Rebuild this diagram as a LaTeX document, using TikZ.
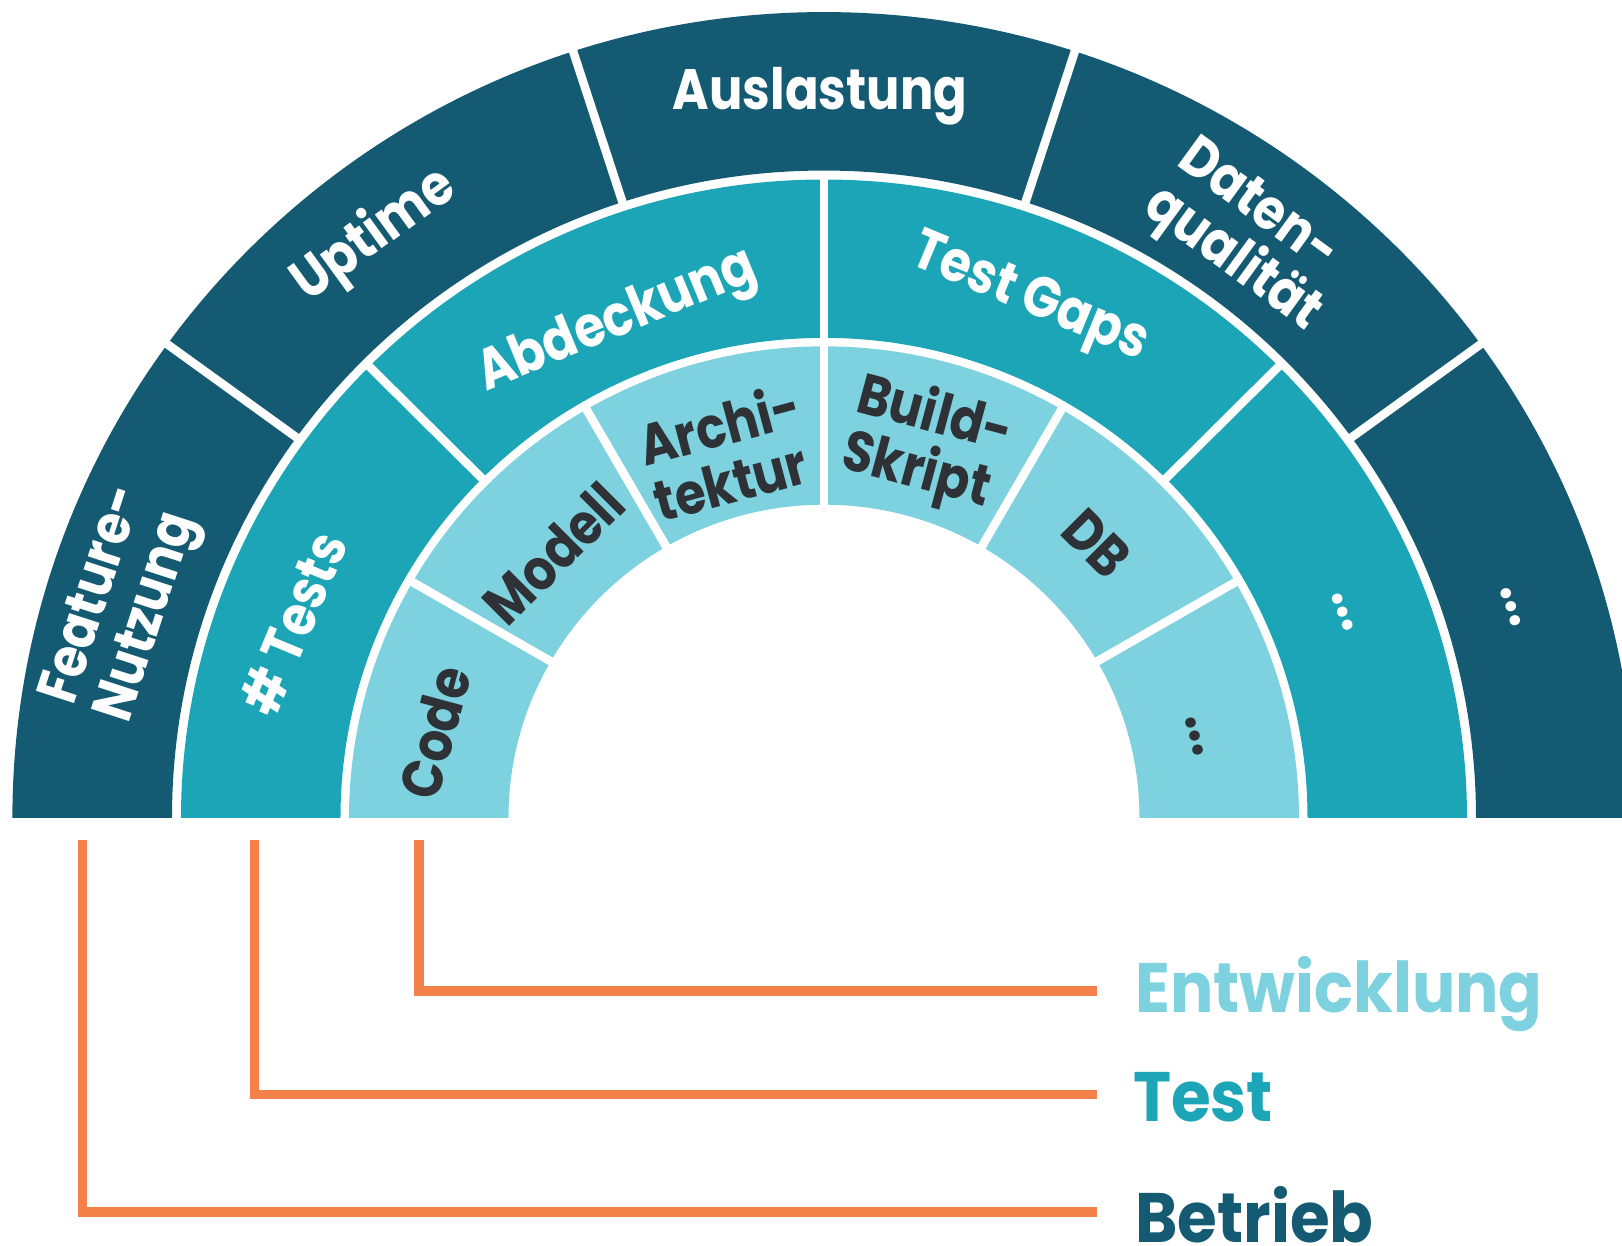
\documentclass[tikz,border=0pt]{standalone}
\usepackage{fontspec}
\setmainfont{Poppins}[FakeStretch=0.87]
\newfontfamily\legfont{Poppins}[FakeStretch=0.92]
\definecolor{ringdark}{HTML}{135A72}
\definecolor{ringteal}{HTML}{1CA5B7}
\definecolor{ringlight}{HTML}{7ED2DF}
\definecolor{legorange}{HTML}{F5814A}
\definecolor{txtdark}{HTML}{2E3135}
\begin{document}
\begin{tikzpicture}[x=1pt,y=1pt,
  lbl/.style={font=\fontsize{57}{58}\selectfont\bfseries, inner sep=0pt, align=left},
  lblw/.style={lbl, text=white},
  lbld/.style={lbl, text=txtdark},
  gap/.style={white, line width=8.5pt},
  bracket/.style={legorange, line width=9.3pt},
  legend/.style={font=\legfont\fontsize{70}{70}\selectfont\bfseries, inner sep=0pt, anchor=base west}]
\useasboundingbox (-824,-428) rectangle (798,818);
\begin{scope}
\clip (-824,-428) rectangle (798,818);
\begin{scope}[yscale=0.993]
 \fill[ringdark] (0:811.6) arc[start angle=0,end angle=180,radius=811.6] -- (180:652) arc[start angle=180,end angle=0,radius=652] -- cycle;
 \fill[ringteal] (0:643) arc[start angle=0,end angle=180,radius=643] -- (180:483.5) arc[start angle=180,end angle=0,radius=483.5] -- cycle;
 \fill[ringlight] (0:475) arc[start angle=0,end angle=180,radius=475] -- (180:315.5) arc[start angle=180,end angle=0,radius=315.5] -- cycle;
 \foreach \a in {36,72,108,144} \draw[gap] (\a:648) -- (\a:816);
 \foreach \a in {45,90,135} \draw[gap] (\a:479) -- (\a:647);
 \foreach \a in {30,60,90,120,150} \draw[gap] (\a:311) -- (\a:479);
\end{scope}
\end{scope}
% outer ring labels
\node[lblw, rotate=72] (n-feat) at (-700,213) {Feature-\\Nutzung};
\node[lblw, rotate=36] (n-up) at (-449.5,582.2) {Uptime};
\node[lblw] (n-aus) at (-4,722) {Auslastung};
\node[lblw, rotate=-36] (n-dat) at (424,580) {Daten-\\qualität};
\node[lblw, rotate=-72] (n-o5) at (687,211) {...};
% middle ring labels
\node[lblw, rotate=67.5] (n-tests) at (-531,195) {\# Tests};
\node[lblw, rotate=22.5] (n-abd) at (-206.4,495.3) {Abdeckung};
\node[lblw, rotate=-22.5] (n-gaps) at (205,518) {Test Gaps};
\node[lblw, rotate=-67.5] (n-m4) at (518.7,206) {...};
% inner ring labels
\node[lbld, rotate=75] (n-code) at (-389.5,85.6) {Code};
\node[lbld, rotate=45] (n-mod) at (-270.6,264.6) {Modell};
\node[lbld, rotate=15] (n-arch) at (-97.3,366.3) {Archi-\\tektur};
\node[lbld, rotate=-15] (n-build) at (102.7,373) {Build-\\Skript};
\node[lbld, rotate=-45] (n-db) at (272.7,274.7) {DB};
\node[lbld, rotate=-75] (n-i6) at (370.8,81.5) {...};
% legend
\node[legend, text=ringlight] (leg-e) at (311,-195) {Entwicklung};
\node[legend, text=ringteal] (leg-t) at (309,-304) {Test};
\node[legend, text=ringdark] (leg-b) at (311,-424) {Betrieb};
\coordinate (e-top) at (-405,-22);   \coordinate (e-end) at (273,-173);
\coordinate (t-top) at (-569.5,-22); \coordinate (t-end) at (273,-276.5);
\coordinate (b-top) at (-741.2,-22); \coordinate (b-end) at (273,-394);
\draw[bracket] (e-top) |- (e-end);
\draw[bracket] (t-top) |- (t-end);
\draw[bracket] (b-top) |- (b-end);
\end{tikzpicture}
\end{document}
